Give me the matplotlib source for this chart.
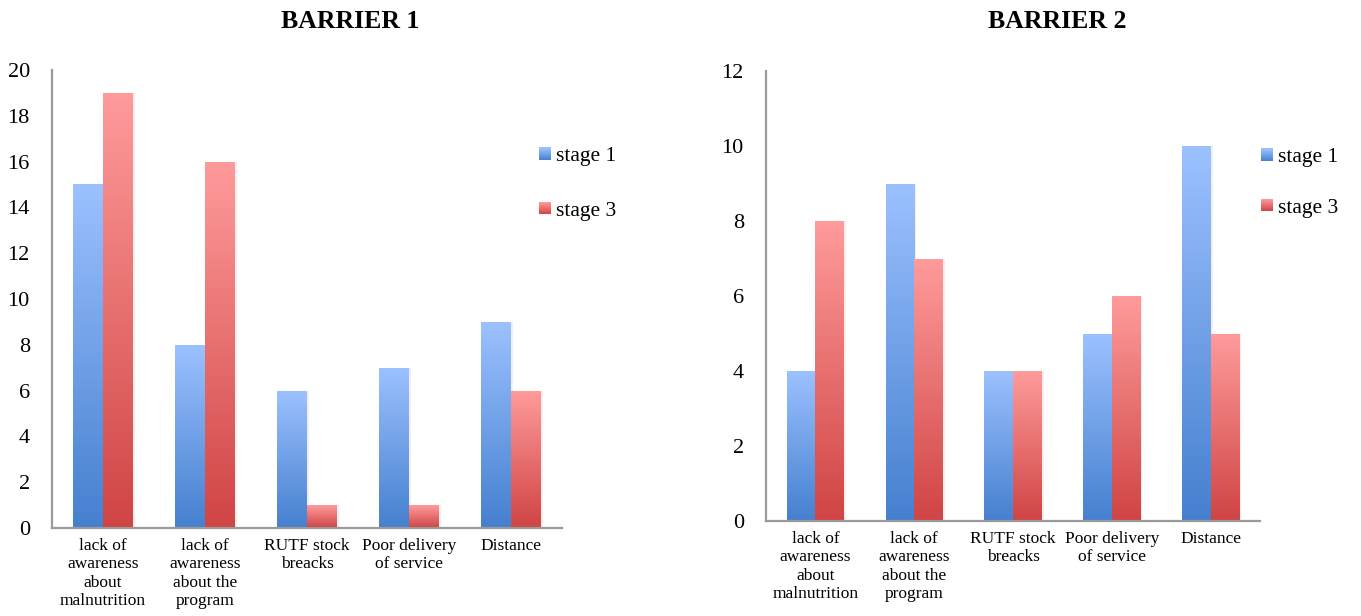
import numpy as np
import matplotlib.pyplot as plt
from matplotlib.colors import LinearSegmentedColormap
from matplotlib.patches import Rectangle
from matplotlib.legend_handler import HandlerBase

categories = ["lack of\nawareness\nabout\nmalnutrition",
              "lack of\nawareness\nabout the\nprogram",
              "RUTF stock\nbreacks",
              "Poor delivery\nof service",
              "Distance"]
series_names = ["stage 1", "stage 3"]

barrier1_stage1 = [15, 8, 6, 7, 9]
barrier1_stage3 = [19, 16, 1, 1, 6]
barrier2_stage1 = [4, 9, 4, 5, 10]
barrier2_stage3 = [8, 7, 4, 6, 5]

plt.rcParams['font.family'] = ['Liberation Serif', 'DejaVu Serif']

# bottom colour -> top colour of each bar
blue_grad = ("#4580cf", "#9cc1ff")
red_grad = ("#d04444", "#ff9b9b")
cmaps = [LinearSegmentedColormap.from_list("b", blue_grad),
         LinearSegmentedColormap.from_list("r", red_grad)]
grad = np.linspace(0, 1, 256).reshape(-1, 1)


class GradHandler(HandlerBase):
    def __init__(self, cmap):
        super().__init__()
        self.cmap = cmap

    def create_artists(self, legend, orig, xdescent, ydescent, width, height, fontsize, trans):
        s = min(width, height)
        x0 = -xdescent + (width - s) / 2
        y0 = -ydescent + (height - s) / 2
        n = 12
        arts = []
        for i in range(n):
            r = Rectangle((x0, y0 + s * i / n), s, s / n + 0.3,
                          facecolor=self.cmap((i + 0.5) / n), edgecolor='none', transform=trans)
            arts.append(r)
        return arts


def gradient_bars(ax, xs, vals, cmap):
    bars = ax.bar(xs, vals, width=0.29, color='none', edgecolor='none')
    for b in bars:
        x0, w, h = b.get_x(), b.get_width(), b.get_height()
        # soft shadow on the right side
        ax.add_patch(Rectangle((x0 + 0.02, 0), w, h, facecolor='black', alpha=0.06,
                               edgecolor='none', zorder=1))
        im = ax.imshow(grad, cmap=cmap, origin='lower', aspect='auto',
                       extent=[x0, x0 + w, 0, h], zorder=2)
        im.set_clip_path(b)
    return bars


def draw_panel(ax, s1, s3, ymax, leg_x, leg_y, spacing):
    x = np.arange(len(categories))
    b1 = gradient_bars(ax, x - 0.145, s1, cmaps[0])
    b3 = gradient_bars(ax, x + 0.145, s3, cmaps[1])
    ax.set_xlim(-0.5, len(categories) - 0.5)
    ax.set_ylim(0, ymax)
    ax.set_yticks(range(0, ymax + 1, 2))
    ax.set_xticks(x)
    ax.set_xticklabels(categories, fontsize=12.5, linespacing=1.21)
    ax.tick_params(axis='y', length=0, pad=16, labelsize=16)
    ax.tick_params(axis='x', length=0, pad=7)
    for sp in ['top', 'right']:
        ax.spines[sp].set_visible(False)
    for sp in ['left', 'bottom']:
        ax.spines[sp].set_color('#9a9a9a')
        ax.spines[sp].set_linewidth(1.6)
    fig.legend([b1, b3], series_names, loc='center left',
               bbox_to_anchor=(leg_x, leg_y), frameon=False, fontsize=15.5,
               borderpad=0, borderaxespad=0, handlelength=0.55, handleheight=0.55,
               handletextpad=0.25, labelspacing=spacing,
               handler_map={b1: GradHandler(cmaps[0]), b3: GradHandler(cmaps[1])})


fig = plt.figure(figsize=(13.61, 6.16), dpi=100)
ax1 = fig.add_axes([52 / 1361, 88 / 616, 510 / 1361, 458 / 616])
ax2 = fig.add_axes([766 / 1361, 95 / 616, 494 / 1361, 450 / 616])

draw_panel(ax1, barrier1_stage1, barrier1_stage3, 20, 539 / 1361, 1 - 184 / 616, 1.64)
draw_panel(ax2, barrier2_stage1, barrier2_stage3, 12, 1261 / 1361, 1 - 183 / 616, 1.46)

fig.text(350 / 1361, 1 - 21 / 616, "BARRIER 1", ha='center', va='center',
         fontsize=18.5, fontweight='bold')
fig.text(1057 / 1361, 1 - 21 / 616, "BARRIER 2", ha='center', va='center',
         fontsize=18.5, fontweight='bold')

fig.savefig("out.png", dpi=100)
